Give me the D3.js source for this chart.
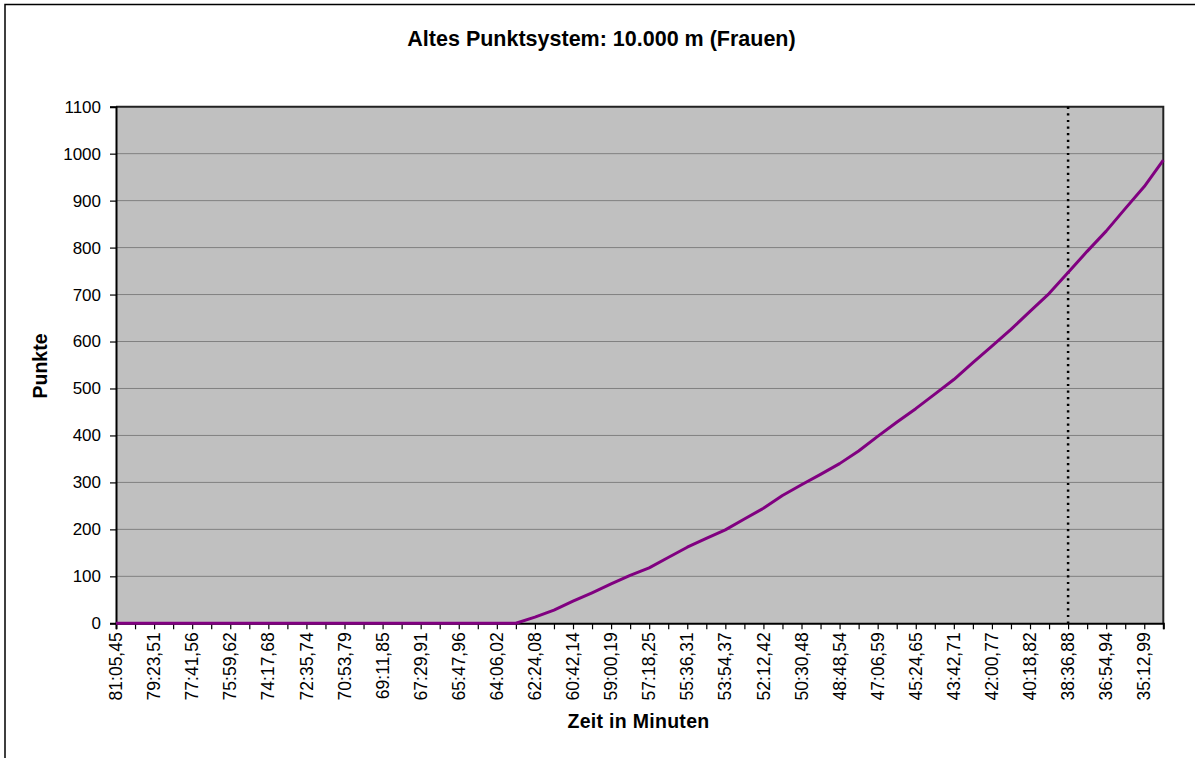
<!DOCTYPE html>
<html>
<head>
<meta charset="utf-8">
<script src="https://cdn.jsdelivr.net/npm/d3@7"></script>
<style>
  html, body { margin: 0; padding: 0; background: #fff; }
  svg { display: block; }
  text { font-family: Arial, "Liberation Sans", sans-serif; fill: #000; }
</style>
</head>
<body>
<svg id="chart" width="1195" height="758"></svg>
<script>
// ---- data ----
const categories = [
  "81:05,45","80:14,48","79:23,51","78:32,54","77:41,56","76:50,59","75:59,62","75:08,65",
  "74:17,68","73:26,71","72:35,74","71:44,76","70:53,79","70:02,82","69:11,85","68:20,88",
  "67:29,91","66:38,93","65:47,96","64:56,99","64:06,02","63:15,05","62:24,08","61:33,11",
  "60:42,14","59:51,16","59:00,19","58:09,22","57:18,25","56:27,28","55:36,31","54:45,34",
  "53:54,37","53:03,40","52:12,42","51:21,45","50:30,48","49:39,51","48:48,54","47:57,57",
  "47:06,59","46:15,62","45:24,65","44:33,68","43:42,71","42:51,74","42:00,77","41:09,80",
  "40:18,82","39:27,85","38:36,88","37:45,91","36:54,94","36:03,97","35:12,99","34:22,02"
];
const points = [
  0,0,0,0,0,0,0,0,0,0,0,0,0,0,0,0,0,0,0,0,0,0,
  13,28,47,65,84,102,118,140,162,181,
  199,222,245,272,295,317,340,367,398,428,
  457,488,519,555,590,626,664,702,747,792,
  835,883,930,986
];
const yTicks = [0,100,200,300,400,500,600,700,800,900,1000,1100];
const markerCategory = "38:36,88";
const title = "Altes Punktsystem: 10.000 m (Frauen)";
const xTitle = "Zeit in Minuten";
const yTitle = "Punkte";

// ---- layout ----
const L = 116, R = 1163.3, T = 106.7, B = 623.3;
const svg = d3.select("#chart");

// outer chart border
svg.append("rect").attr("x", 5).attr("y", 4.5).attr("width", 1205).attr("height", 770)
  .attr("fill", "#fff").attr("stroke", "#000").attr("stroke-width", 1.5);

const x = d3.scalePoint().domain(categories).range([L, R]).padding(0);
const y = d3.scaleLinear().domain([0, 1100]).range([B, T]);

// plot area
svg.append("rect").attr("x", L).attr("y", T).attr("width", R - L).attr("height", B - T)
  .attr("fill", "#C0C0C0");

// gridlines
svg.append("g").selectAll("line").data(yTicks.filter(d => d > 0 && d < 1100)).join("line")
  .attr("x1", L).attr("x2", R).attr("y1", d => y(d)).attr("y2", d => y(d))
  .attr("stroke", "#808080").attr("stroke-width", 1);

// plot border (top/right)
svg.append("path")
  .attr("d", `M${L},${T}H${R}V${B}`)
  .attr("fill", "none").attr("stroke", "#222").attr("stroke-width", 2);

// marker dotted line
svg.append("line")
  .attr("x1", x(markerCategory)).attr("x2", x(markerCategory))
  .attr("y1", T).attr("y2", B)
  .attr("stroke", "#000").attr("stroke-width", 2.5).attr("stroke-dasharray", "2.2,4.4");

// y axis
const yAxis = d3.axisLeft(y).tickValues(yTicks).tickSize(6).tickPadding(9).tickFormat(d3.format("d"));
const gy = svg.append("g").attr("transform", `translate(${L},0)`).call(yAxis);
gy.select(".domain").attr("stroke", "#000").attr("stroke-width", 2);
gy.selectAll(".tick line").attr("stroke", "#000").attr("stroke-width", 1.2);
gy.selectAll(".tick text").attr("font-size", 17).attr("font-family", "Arial, 'Liberation Sans', sans-serif")
  .attr("fill", "#000");

// x axis
const xAxis = d3.axisBottom(x).tickSize(6).tickFormat("");
const gx = svg.append("g").attr("transform", `translate(0,${B})`).call(xAxis);
gx.select(".domain").attr("stroke", "#000").attr("stroke-width", 2);
gx.selectAll(".tick line").attr("stroke", "#000").attr("stroke-width", 1.2);

// x labels (every second category)
svg.append("g").selectAll("text")
  .data(categories.filter((d, i) => i % 2 === 0)).join("text")
  .attr("transform", d => `translate(${x(d)},${B + 9}) rotate(-90)`)
  .attr("text-anchor", "end")
  .attr("dy", "0.35em")
  .attr("font-size", 17.5)
  .text(d => d);

// series line
const line = d3.line().x((d, i) => x(categories[i])).y(d => y(d));
svg.append("path").datum(points)
  .attr("d", line)
  .attr("fill", "none").attr("stroke", "#800080").attr("stroke-width", 3)
  .attr("stroke-linejoin", "round");

// titles
svg.append("text").attr("x", 601.5).attr("y", 46).attr("text-anchor", "middle")
  .attr("font-size", 21.5).attr("font-weight", "bold").text(title);
svg.append("text").attr("x", 638.5).attr("y", 728).attr("text-anchor", "middle")
  .attr("font-size", 19.5).attr("font-weight", "bold").attr("letter-spacing", 0.3).text(xTitle);
svg.append("text").attr("transform", "translate(46.5,366) rotate(-90)").attr("text-anchor", "middle")
  .attr("font-size", 19.5).attr("font-weight", "bold").text(yTitle);
</script>
</body>
</html>
